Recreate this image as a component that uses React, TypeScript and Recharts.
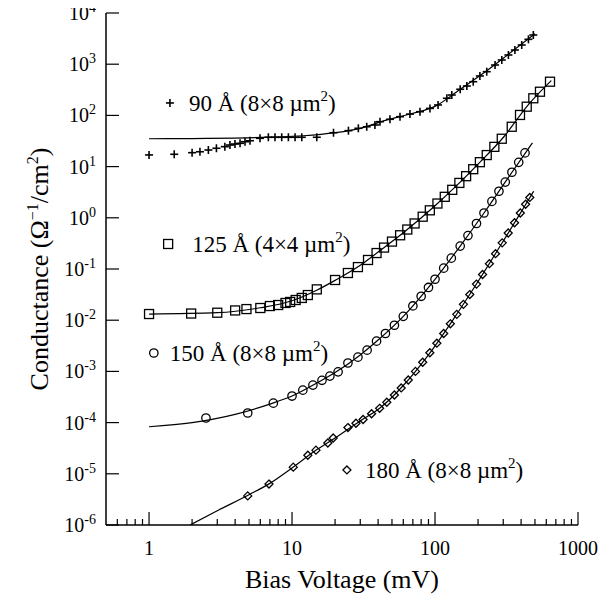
import React from 'react';
import { ComposedChart, XAxis, YAxis, Scatter, Line, ReferenceDot } from 'recharts';

const FONT = "'Liberation Serif', 'Times New Roman', serif";

// ---- 90 Å (8x8 µm²), plus markers ----
const v90 = [1.0, 1.5, 2.0, 2.27, 2.6, 2.96, 3.39, 3.68, 3.99, 4.33, 4.69, 5.08, 5.97, 6.83, 7.6, 8.47, 9.43, 10.5, 11.7, 14.9, 19.5, 24.8, 29.1, 33.3, 38, 41.2, 48.4, 56.9, 66.8, 78.5, 92.2, 105, 121, 131, 150, 167, 185, 206, 230, 263, 293, 326, 362, 404, 450, 487];
const g90 = [16.9, 17.4, 18.7, 19.5, 21.1, 22.8, 24.5, 26.4, 27.6, 28.5, 30.6, 32, 35.7, 37.4, 37.4, 37.4, 37.4, 37.4, 37.4, 37.4, 45.9, 50.3, 56, 60, 65, 75.3, 84, 94.4, 106, 118, 137, 160, 216, 250, 324, 375, 455, 589, 714, 964, 1208, 1513, 1893, 2371, 3061, 3715];
const fitV90 = [1, 2, 4, 7, 12, 20, 30, 45, 70, 100, 150, 220, 320, 500];
const fitG90 = [35, 35.3, 36, 37.5, 40, 46, 56, 80, 110, 150, 324, 680, 1500, 3950];

// ---- 125 Å (4x4 µm²), square markers ----
const v125 = [1.0, 1.97, 3.0, 4.0, 4.8, 6.0, 7.0, 8.0, 9.0, 9.7, 10.6, 11.7, 12.9, 14.9, 20, 24.6, 28.9, 34, 39, 44, 50, 57, 64, 72, 82, 92, 104, 117, 132, 148, 165, 185, 206, 230, 260, 293, 344, 393, 438, 487, 542, 637];
const g125 = [0.0132, 0.0135, 0.014, 0.0155, 0.0165, 0.0173, 0.0189, 0.0198, 0.0217, 0.0227, 0.0248, 0.0272, 0.031, 0.04, 0.061, 0.0835, 0.109, 0.15, 0.205, 0.262, 0.343, 0.456, 0.59, 0.775, 1.05, 1.4, 1.9, 2.57, 3.52, 4.8, 6.5, 8.9, 12.2, 16.8, 24.3, 35, 60, 102, 148, 216, 290, 455];
const fitV125 = [1, 3, 6, 10, 15, 20, 30, 40, 60, 100, 150, 200, 300, 450, 650];
const fitG125 = [0.0132, 0.014, 0.0175, 0.024, 0.039, 0.06, 0.118, 0.215, 0.51, 1.72, 4.98, 11.2, 37, 163, 480];

// ---- 150 Å (8x8 µm²), circle markers ----
const v150 = [2.5, 4.9, 7.4, 10, 11.9, 14, 16.2, 18.4, 21, 24.6, 28.9, 33.5, 39, 45, 52, 60, 70, 80, 90, 100, 115, 130, 150, 170, 195, 220, 250, 280, 310, 345, 385, 426];
const g150 = [1.23e-4, 1.54e-4, 2.4e-4, 3.3e-4, 4.3e-4, 5.4e-4, 6.7e-4, 8.1e-4, 9.8e-4, 1.46e-3, 1.9e-3, 2.6e-3, 3.9e-3, 5.5e-3, 7.97e-3, 0.0119, 0.019, 0.0293, 0.0436, 0.063, 0.104, 0.163, 0.28, 0.45, 0.774, 1.24, 2.09, 3.3, 4.98, 7.76, 12.1, 18.5];
const fitV150 = [1, 2, 4, 7, 10, 15, 20, 30, 40, 60, 100, 150, 220, 320, 480];
const fitG150 = [8.3e-5, 1.0e-4, 1.45e-4, 2.3e-4, 3.3e-4, 6.0e-4, 9.5e-4, 2.1e-3, 4.1e-3, 0.0119, 0.063, 0.28, 1.24, 5.7, 29];

// ---- 180 Å (8x8 µm²), diamond markers ----
const v180 = [4.9, 6.9, 10.2, 12.9, 14.7, 17.8, 19.4, 24.6, 28, 31.4, 36, 41, 46, 52, 58, 65, 73, 82, 92, 103, 115, 128, 142, 158, 175, 195, 215, 240, 265, 295, 325, 360, 395, 430, 460];
const g180 = [3.7e-6, 6.3e-6, 1.35e-5, 2.3e-5, 2.9e-5, 4.0e-5, 5.0e-5, 8.0e-5, 9.7e-5, 1.15e-4, 1.49e-4, 1.9e-4, 2.5e-4, 3.46e-4, 4.75e-4, 6.8e-4, 1.0e-3, 1.51e-3, 2.31e-3, 3.56e-3, 5.5e-3, 8.5e-3, 0.013, 0.0204, 0.0317, 0.0507, 0.078, 0.127, 0.199, 0.324, 0.504, 0.8, 1.24, 1.84, 2.5];
const fitV180 = [1.94, 3, 5, 7, 10, 15, 20, 30, 41, 60, 90, 130, 200, 300, 400, 490];
const fitG180 = [1e-6, 1.9e-6, 3.9e-6, 6.5e-6, 1.3e-5, 3.0e-5, 5.0e-5, 1.08e-4, 1.9e-4, 5.3e-4, 2.1e-3, 9.1e-3, 0.057, 0.35, 1.3, 3.3];

// ---- axes ----
const xMajor = [1, 10, 100, 1000];
const xMinor = [0.6, 0.7, 0.8, 0.9, 2, 3, 4, 5, 6, 7, 8, 9, 20, 30, 40, 50, 60, 70, 80, 90, 200, 300, 400, 500, 600, 700, 800, 900];
const yExp = [-6, -5, -4, -3, -2, -1, 0, 1, 2, 3, 4];
const yMajor = yExp.map((e) => Math.pow(10, e));

const legendItems = [
  { x: 1.40, y: 175, marker: 'plus', text: '90 Å (8×8 µm', gap: 19 },
  { x: 1.36, y: 0.308, marker: 'square', text: '125 Å (4×4 µm', gap: 24 },
  { x: 1.08, y: 2.29e-3, marker: 'circle', text: '150 Å (8×8 µm', gap: 16 },
  { x: 24.2, y: 1.19e-5, marker: 'diamond', text: '180 Å (8×8 µm', gap: 18 },
];

const pts = (xs: number[], ys: number[]) => xs.map((x, i) => ({ x, y: ys[i] }));

const isMajorX = (v: number) => xMajor.includes(v);

const drawMarker = (kind: string, cx: number, cy: number) => {
  const sw = 1.3;
  if (kind === 'plus') {
    return (
      <g stroke="#000" strokeWidth={1.6}>
        <line x1={cx - 4} y1={cy} x2={cx + 4} y2={cy} />
        <line x1={cx} y1={cy - 4} x2={cx} y2={cy + 4} />
      </g>
    );
  }
  if (kind === 'square') {
    return <rect x={cx - 4.5} y={cy - 4.5} width={9} height={9} fill="none" stroke="#000" strokeWidth={sw} />;
  }
  if (kind === 'circle') {
    return <circle cx={cx} cy={cy} r={4.2} fill="none" stroke="#000" strokeWidth={sw} />;
  }
  return (
    <polygon
      points={`${cx},${cy - 4} ${cx + 4},${cy} ${cx},${cy + 4} ${cx - 4},${cy}`}
      fill="none"
      stroke="#000"
      strokeWidth={sw}
    />
  );
};

const BottomTick = (props: any) => {
  const { x, y, payload } = props;
  const major = isMajorX(payload.value);
  return (
    <g>
      <line x1={x} y1={y} x2={x} y2={y - (major ? 13 : 6)} stroke="#000" strokeWidth={1.2} />
      {major && (
        <text x={x} y={y + 30} textAnchor="middle" fontFamily={FONT} fontSize={20} fill="#000">
          {payload.value}
        </text>
      )}
    </g>
  );
};

const TopTick = (props: any) => {
  const { x, y, payload } = props;
  const major = isMajorX(payload.value);
  return <line x1={x} y1={y} x2={x} y2={y + (major ? 13 : 6)} stroke="#000" strokeWidth={1.2} />;
};

const LeftTick = (props: any) => {
  const { x, y, payload } = props;
  const e = Math.round(Math.log10(payload.value));
  return (
    <g>
      <line x1={x} y1={y} x2={x + 13} y2={y} stroke="#000" strokeWidth={1.2} />
      <text x={x - 10} y={y + 7} textAnchor="end" fontFamily={FONT} fontSize={20} fill="#000">
        10
        <tspan dy={-8} fontSize={14}>
          {e}
        </tspan>
      </text>
    </g>
  );
};

const RightTick = (props: any) => {
  const { x, y } = props;
  return <line x1={x} y1={y} x2={x - 13} y2={y} stroke="#000" strokeWidth={1.2} />;
};

const XTitle = (props: any) => {
  const vb = props.viewBox;
  return (
    <text x={vb.x + vb.width / 2} y={vb.y + 63} textAnchor="middle" fontFamily={FONT} fontSize={26} fill="#000">
      Bias Voltage (mV)
    </text>
  );
};

const YTitle = (props: any) => {
  const vb = props.viewBox;
  const cx = 48;
  const cy = vb.y + vb.height / 2;
  return (
    <text
      x={cx}
      y={cy}
      transform={`rotate(-90 ${cx} ${cy})`}
      textAnchor="middle"
      fontFamily={FONT}
      fontSize={26}
      fill="#000"
    >
      Conductance (Ω
      <tspan dy={-10} fontSize={16}>−1</tspan>
      <tspan dy={10}>/cm</tspan>
      <tspan dy={-10} fontSize={16}>2</tspan>
      <tspan dy={10}>)</tspan>
    </text>
  );
};

const LegendShape = (item: any) => (props: any) => {
  const { cx, cy } = props;
  return (
    <g>
      {drawMarker(item.marker, cx, cy)}
      <text x={cx + item.gap} y={cy + 8} fontFamily={FONT} fontSize={23} fill="#000">
        {item.text}
        <tspan dy={-10} fontSize={15}>2</tspan>
        <tspan dy={10}>)</tspan>
      </text>
    </g>
  );
};

const markerShape = (kind: string) => (props: any) => drawMarker(kind, props.cx, props.cy);

export default function App() {
  const series = [
    { v: v90, g: g90, fv: fitV90, fg: fitG90, kind: 'plus' },
    { v: v125, g: g125, fv: fitV125, fg: fitG125, kind: 'square' },
    { v: v150, g: g150, fv: fitV150, fg: fitG150, kind: 'circle' },
    { v: v180, g: g180, fv: fitV180, fg: fitG180, kind: 'diamond' },
  ];
  const xTicks = [...xMajor, ...xMinor].sort((a, b) => a - b);
  return (
    <div style={{ width: 610, height: 603, margin: '-8px 0 0 -8px' }}>
      <ComposedChart width={610} height={603} margin={{ top: 13, right: 32, bottom: 0, left: 0 }}>
        <XAxis
          xAxisId="b"
          dataKey="x"
          type="number"
          scale="log"
          domain={[0.5, 1000]}
          allowDataOverflow
          ticks={xTicks}
          interval={0}
          height={78}
          tickSize={0}
          tickMargin={0}
          tick={<BottomTick />}
          tickLine={false}
          axisLine={{ stroke: '#000', strokeWidth: 1.5 }}
          label={<XTitle />}
        />
        <XAxis
          xAxisId="t"
          orientation="top"
          dataKey="x"
          type="number"
          scale="log"
          domain={[0.5, 1000]}
          allowDataOverflow
          ticks={xTicks}
          interval={0}
          height={0}
          tickSize={0}
          tickMargin={0}
          tick={<TopTick />}
          tickLine={false}
          axisLine={{ stroke: '#000', strokeWidth: 1.5 }}
        />
        <YAxis
          yAxisId="l"
          dataKey="y"
          type="number"
          scale="log"
          domain={[1e-6, 1e4]}
          allowDataOverflow
          ticks={yMajor}
          interval={0}
          width={106}
          tickSize={0}
          tickMargin={0}
          tick={<LeftTick />}
          tickLine={false}
          axisLine={{ stroke: '#000', strokeWidth: 1.5 }}
          label={<YTitle />}
        />
        <YAxis
          yAxisId="r"
          orientation="right"
          dataKey="y"
          type="number"
          scale="log"
          domain={[1e-6, 1e4]}
          allowDataOverflow
          ticks={yMajor}
          interval={0}
          width={0}
          tickSize={0}
          tickMargin={0}
          tick={<RightTick />}
          tickLine={false}
          axisLine={{ stroke: '#000', strokeWidth: 1.5 }}
        />
        {series.map((s, i) => (
          <Line
            key={'fit' + i}
            xAxisId="b"
            yAxisId="l"
            data={pts(s.fv, s.fg)}
            dataKey="y"
            type="monotone"
            dot={false}
            stroke="#000"
            strokeWidth={1.2}
            isAnimationActive={false}
          />
        ))}
        {series.map((s, i) => (
          <Scatter
            key={'pts' + i}
            xAxisId="b"
            yAxisId="l"
            data={pts(s.v, s.g)}
            dataKey="y"
            shape={markerShape(s.kind)}
            isAnimationActive={false}
          />
        ))}
        {legendItems.map((it, i) => (
          <ReferenceDot key={'lg' + i} xAxisId="b" yAxisId="l" x={it.x} y={it.y} shape={LegendShape(it)} />
        ))}
      </ComposedChart>
    </div>
  );
}
